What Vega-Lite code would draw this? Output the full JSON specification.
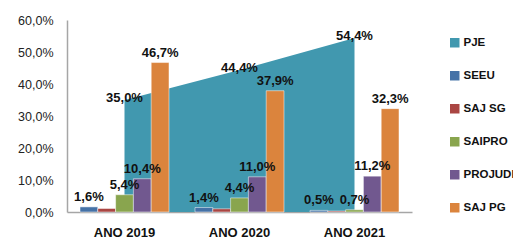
{
  "$schema": "https://vega.github.io/schema/vega-lite/v6.json",
  "width": 345,
  "height": 192,
  "autosize": {"type": "none"},
  "padding": {"left": 67, "top": 20, "right": 101, "bottom": 28},
  "background": "white",
  "config": {
    "locale": {"number": {"decimal": ",", "thousands": ".", "grouping": [3], "currency": ["R$", ""]}},
    "view": {"stroke": null},
    "font": "Liberation Sans"
  },
  "data": {
    "values": [
      {"ano": "ANO 2019", "serie": "PJE", "valor": 0.350},
      {"ano": "ANO 2020", "serie": "PJE", "valor": 0.444},
      {"ano": "ANO 2021", "serie": "PJE", "valor": 0.544},
      {"ano": "ANO 2019", "serie": "SEEU", "valor": 0.016},
      {"ano": "ANO 2020", "serie": "SEEU", "valor": 0.014},
      {"ano": "ANO 2021", "serie": "SEEU", "valor": 0.005},
      {"ano": "ANO 2019", "serie": "SAJ SG", "valor": 0.011},
      {"ano": "ANO 2020", "serie": "SAJ SG", "valor": 0.010},
      {"ano": "ANO 2021", "serie": "SAJ SG", "valor": 0.003},
      {"ano": "ANO 2019", "serie": "SAIPRO", "valor": 0.054},
      {"ano": "ANO 2020", "serie": "SAIPRO", "valor": 0.044},
      {"ano": "ANO 2021", "serie": "SAIPRO", "valor": 0.007},
      {"ano": "ANO 2019", "serie": "PROJUDI", "valor": 0.104},
      {"ano": "ANO 2020", "serie": "PROJUDI", "valor": 0.110},
      {"ano": "ANO 2021", "serie": "PROJUDI", "valor": 0.112},
      {"ano": "ANO 2019", "serie": "SAJ PG", "valor": 0.467},
      {"ano": "ANO 2020", "serie": "SAJ PG", "valor": 0.379},
      {"ano": "ANO 2021", "serie": "SAJ PG", "valor": 0.323}
    ]
  },
  "encoding": {
    "x": {
      "field": "ano", "type": "nominal",
      "scale": {"paddingInner": 0.226, "paddingOuter": 0.113},
      "axis": {"title": null, "labelAngle": 0, "labelFontWeight": "bold", "labelFontSize": 13, "labelColor": "#111", "ticks": false, "labelPadding": 14, "domainColor": "#a6a6a6", "domainWidth": 1.5}
    },
    "y": {
      "field": "valor", "type": "quantitative",
      "scale": {"domain": [0, 0.6]},
      "axis": {"title": null, "values": [0, 0.1, 0.2, 0.3, 0.4, 0.5, 0.6], "format": ".1%", "grid": false, "ticks": false, "labelPadding": 14, "labelFontSize": 12.5, "labelColor": "#222", "domainColor": "#a6a6a6", "domainWidth": 1.5}
    }
  },
  "layer": [
    {
      "transform": [{"filter": "datum.serie === 'PJE'"}],
      "mark": {"type": "area", "opacity": 1},
      "encoding": {
        "color": {
          "field": "serie", "type": "nominal",
          "scale": {"domain": ["PJE", "SEEU", "SAJ SG", "SAIPRO", "PROJUDI", "SAJ PG"], "range": ["#4198AF", "#4572A7", "#AA4643", "#89A54E", "#71588F", "#DB843D"]},
          "legend": {"title": null, "orient": "none", "legendX": 382, "legendY": 17, "symbolType": "square", "symbolSize": 90, "symbolStrokeWidth": 0, "labelFontSize": 11.5, "labelFontWeight": "bold", "labelColor": "#111", "labelOffset": 3, "rowPadding": 20, "padding": 0}
        }
      }
    },
    {
      "transform": [{"filter": "datum.serie !== 'PJE'"}],
      "mark": {"type": "bar", "stroke": "white", "strokeWidth": 0.5},
      "encoding": {
        "xOffset": {"field": "serie", "type": "nominal", "scale": {"domain": ["SEEU", "SAJ SG", "SAIPRO", "PROJUDI", "SAJ PG"], "paddingInner": 0, "paddingOuter": 0}},
        "color": {"field": "serie", "type": "nominal"}
      }
    },
    {
      "transform": [{"filter": "datum.serie !== 'PJE' && datum.serie !== 'SAJ SG'"}],
      "mark": {"type": "text", "baseline": "bottom", "dy": -3, "fontSize": 13, "fontWeight": "bold", "color": "#111"},
      "encoding": {
        "xOffset": {"field": "serie", "type": "nominal", "scale": {"domain": ["SEEU", "SAJ SG", "SAIPRO", "PROJUDI", "SAJ PG"], "paddingInner": 0, "paddingOuter": 0}},
        "text": {"field": "valor", "type": "quantitative", "format": ".1%"}
      }
    },
    {
      "transform": [{"filter": "datum.serie === 'PJE'"}],
      "mark": {"type": "text", "baseline": "middle", "dy": -2, "fontSize": 13, "fontWeight": "bold", "color": "#111"},
      "encoding": {
        "text": {"field": "valor", "type": "quantitative", "format": ".1%"}
      }
    }
  ]
}
